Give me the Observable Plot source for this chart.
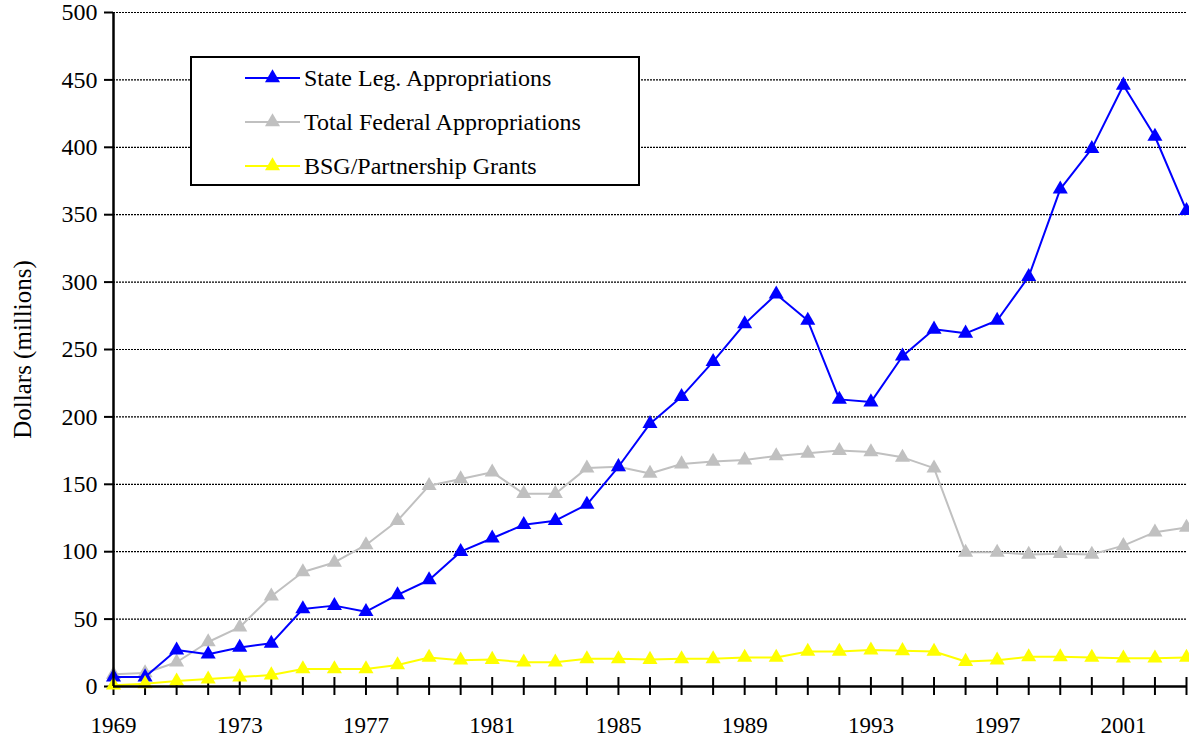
<!DOCTYPE html>
<html>
<head>
<meta charset="utf-8">
<script src="https://cdn.jsdelivr.net/npm/d3@7"></script>
<script src="https://cdn.jsdelivr.net/npm/@observablehq/plot@0.6"></script>
<style>
  html, body { margin: 0; padding: 0; background: white; overflow: hidden; }
</style>
</head>
<body>
<div id="wrap" style="position:relative;width:1189px;height:742px;font-family:'Liberation Serif'"></div>
<script>
const years = [1969,1970,1971,1972,1973,1974,1975,1976,1977,1978,1979,1980,1981,1982,1983,1984,1985,1986,1987,1988,1989,1990,1991,1992,1993,1994,1995,1996,1997,1998,1999,2000,2001,2002,2003];
const stateLeg = [7,7,27,24,29,32,57.5,60,55.5,68, 79,100,110,120,123,135,163,195,215,241, 269,291,271.5,213,211,245,265,262,271.5,304, 369,399,446,408,353];
const federal = [9,10,18,33,44,67,85,92,105,123, 149,154,159,143,143,162,163,158,165,167, 168,171,173,175,174,170,162,99.5,99.5,98, 98.5,98,104.5,114.5,118];
const bsg = [1,2,4,5.5,7,8.5,13,13,13,16, 21.5,19.5,20,18,18,20.5,20.5,20,20.5,20.5, 21.5,21.5,26,26,27,26.5,26,18.5,19.5,22, 22,21.5,21,21,21.5];
const seriesNames = ["State Leg. Appropriations", "Total Federal Appropriations", "BSG/Partnership Grants"];
const seriesColors = ["#0000ff", "#c0c0c0", "#ffff00"];
const yTicks = [0,50,100,150,200,250,300,350,400,450,500];
const xLabelTicks = [1969,1973,1977,1981,1985,1989,1993,1997,2001];
const yTitle = "Dollars (millions)";
const FONT = "'Liberation Serif'";

const rows = (vals) => years.map((yr, i) => ({year: yr, value: vals[i]}));
const dState = rows(stateLeg), dFed = rows(federal), dBsg = rows(bsg);

function seriesMarks(data, color) {
  return [
    Plot.line(data, {x: "year", y: "value", stroke: color, strokeWidth: 2}),
    Plot.dot(data, {x: "year", y: "value", symbol: "triangle", r: 5.6, fill: color, stroke: "none"})
  ];
}

const chart = Plot.plot({
  width: 1189,
  height: 742,
  marginLeft: 113,
  marginRight: 3,
  marginTop: 12,
  marginBottom: 56,
  style: {fontFamily: FONT, fontSize: "24px", color: "black", background: "white"},
  x: {domain: [1969, 2003]},
  y: {domain: [0, 500]},
  marks: [
    Plot.gridY(yTicks, {stroke: "black", strokeOpacity: 1, strokeWidth: 1.2, strokeDasharray: "2,1"}),
    Plot.axisY(yTicks, {tickSize: 9, tickPadding: 7, strokeWidth: 2, fontSize: 24, fontFamily: FONT, label: null}),
    Plot.axisY({ticks: [], tickSize: 0, fontSize: 25, fontFamily: FONT, label: yTitle, labelAnchor: "center", labelOffset: 100, labelArrow: "none"}),
    Plot.axisX(xLabelTicks, {tickSize: 0, tickPadding: 30, fontSize: 23, fontFamily: FONT, label: null, tickFormat: d => String(d)}),
    Plot.ruleX(years, {x: d => d, y1: 0, y2: 0, insetTop: -9, insetBottom: -9, stroke: "black", strokeWidth: 2}),
    ...seriesMarks(dFed, seriesColors[1]),
    ...seriesMarks(dState, seriesColors[0]),
    ...seriesMarks(dBsg, seriesColors[2]),
    Plot.ruleY([0], {stroke: "black", strokeWidth: 2.5}),
    Plot.ruleX([1969], {stroke: "black", strokeWidth: 2.5})
  ]
});
chart.style.setProperty("font-family", FONT, "important");
chart.querySelectorAll("text, tspan, g").forEach(el => {
  el.style.setProperty("font-family", FONT, "important");
  el.removeAttribute("font-family");
});
chart.removeAttribute("font-family");
const wrap = document.getElementById("wrap");
wrap.appendChild(chart);

// legend
const legend = document.createElement("div");
legend.setAttribute("style", "position:absolute;left:190px;top:56px;width:450px;height:130px;box-sizing:border-box;border:2px solid black;background:white;");
const centers = [20, 64, 108];
seriesNames.forEach((name, i) => {
  const row = document.createElement("div");
  row.setAttribute("style", `position:absolute;left:0;top:${centers[i] - 15}px;height:30px;width:440px;`);
  const sw = `<svg width="56" height="30" style="position:absolute;left:53px;top:0"><line x1="0" x2="55" y1="15" y2="15" stroke="${seriesColors[i]}" stroke-width="2"/>` +
    `<path transform="translate(27.5,15)" d="${d3.symbol(d3.symbolTriangle, Math.PI * 5.6 * 5.6)()}" fill="${seriesColors[i]}"/></svg>`;
  row.innerHTML = sw + `<span style="position:absolute;left:112px;top:0;height:30px;line-height:30px;font-size:24px;white-space:nowrap;font-family:${FONT}">${name}</span>`;
  legend.appendChild(row);
});
wrap.appendChild(legend);
</script>
</body>
</html>
